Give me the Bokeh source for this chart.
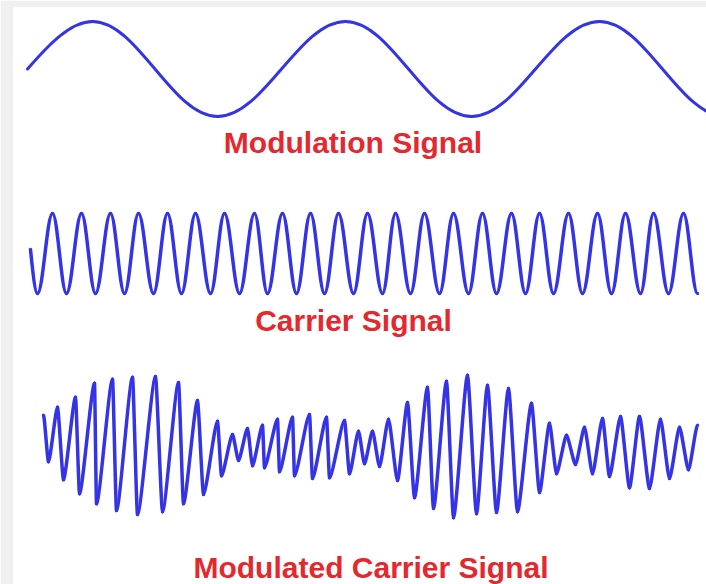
from bokeh.plotting import figure
from bokeh.models import Range1d
from bokeh.embed import file_html
from bokeh.resources import INLINE
from bokeh.core.properties import value

# ---------------- data (time in samples, amplitude in volts) ----------------
# Modulation signal: start + successive peaks/troughs
mod_t = [27, 92, 217, 345, 471, 599, 725]
mod_v = [0.0, 1.19, -1.19, 1.19, -1.19, 1.19, -1.19]

# Carrier signal: start + successive troughs/peaks
car_t = [30, 37, 52, 66, 81, 95, 110, 124, 138, 153, 167, 181, 195, 210, 224,
         239, 254, 267, 282, 296, 310, 324, 338, 353, 367, 382, 395, 410, 424,
         439, 453, 468, 482, 496, 511, 525, 539, 553, 568, 582, 597, 611, 625,
         640, 653, 668, 683, 697]
car_v = [0.1] + [(-1.0 if i % 2 == 0 else 1.0) for i in range(len(car_t) - 1)]

# Modulated carrier: start + successive troughs/peaks
am_t = [43, 48, 57, 63, 75, 79, 94, 96, 112, 116, 132, 137, 155, 162, 178, 183,
        197, 203, 217, 221, 232, 238, 247, 252, 262, 264, 277, 279, 292, 294,
        309, 312, 326, 329, 344, 349, 358, 364, 372, 379, 388, 397, 407, 414,
        427, 433, 446, 453, 467, 476, 487, 496, 508, 517, 531, 539, 549, 556,
        566, 575, 584, 592, 602, 609, 620, 629, 639, 649, 660, 669, 679, 688, 697]
am_v = [0.78, -0.38, 0.98, -0.83, 1.23, -1.18, 1.58, -1.43, 1.68, -1.60, 1.73,
        -1.70, 1.75, -1.63, 1.60, -1.43, 1.15, -1.20, 0.63, -0.73, 0.30, -0.35,
        0.45, -0.48, 0.53, -0.53, 0.68, -0.63, 0.73, -0.73, 0.80, -0.80, 0.73,
        -0.78, 0.65, -0.68, 0.38, -0.43, 0.38, -0.50, 0.68, -0.85, 1.10, -1.28,
        1.48, -1.55, 1.63, -1.78, 1.78, -1.68, 1.53, -1.65, 1.45, -1.63, 1.08,
        -1.15, 0.58, -0.68, 0.28, -0.45, 0.48, -0.68, 0.70, -0.75, 0.75, -1.03,
        0.75, -1.05, 0.68, -0.80, 0.48, -0.58, 0.53]

labels = ["Modulation Signal", "Carrier Signal", "Modulated Carrier Signal"]

# ---------------- layout / style ----------------
BLUE = "#3434e6"
RED = "#e5282d"
SCALE = 40.0                     # px per volt
ROW_CENTER = [68.5, 253.0, 446.0]
LABEL_POS = [(352.5, 142), (353, 320), (370.5, 567)]

p = figure(width=706, height=584, output_backend="svg", toolbar_location=None,
           x_range=Range1d(13, 706), y_range=Range1d(584, 7),
           min_border_left=13, min_border_right=0, min_border_top=7, min_border_bottom=0)
p.axis.visible = False
p.grid.visible = False
p.outline_line_color = None
p.background_fill_color = "white"
p.border_fill_color = "#f0f0f0"


def ypix(v, row):
    return ROW_CENTER[row] - v * SCALE


def draw_wave(t, v, row, first_quarter, width, k=0.3634):
    x0, y0, x1, y1, cx0, cy0, cx1, cy1 = [], [], [], [], [], [], [], []
    for i in range(len(t) - 1):
        a, b = t[i], t[i + 1]
        va, vb = ypix(v[i], row), ypix(v[i + 1], row)
        d = b - a
        if i == 0 and first_quarter:
            c0 = (a + 0.3343 * d, va + 0.5251 * (vb - va))
            c1 = (a + 0.6657 * d, vb)
        else:
            c0 = (a + k * d, va)
            c1 = (b - k * d, vb)
        x0.append(a); y0.append(va); x1.append(b); y1.append(vb)
        cx0.append(c0[0]); cy0.append(c0[1]); cx1.append(c1[0]); cy1.append(c1[1])
    p.bezier(x0=x0, y0=y0, x1=x1, y1=y1, cx0=cx0, cy0=cy0, cx1=cx1, cy1=cy1,
             line_color=BLUE, line_width=width, line_cap="round")


draw_wave(mod_t, mod_v, 0, True, 3)
draw_wave(car_t, car_v, 1, True, 3.5)
draw_wave(am_t, am_v, 2, False, 3.5, k=0.2)

p.text(x=[q[0] for q in LABEL_POS], y=[q[1] for q in LABEL_POS], text=labels,
       text_align="center", text_baseline="alphabetic",
       text_font=value("Liberation Sans"), text_font_style="bold",
       text_font_size="30px", text_color=RED)

html = file_html(p, INLINE)
open("out.html", "w").write(html)
